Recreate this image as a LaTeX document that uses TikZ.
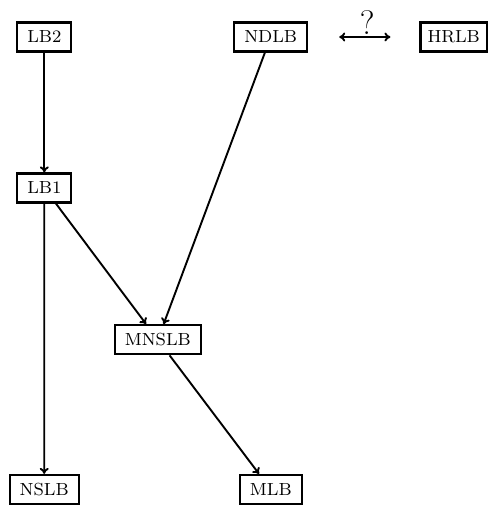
\documentclass[tikz,border=0pt]{standalone}
\usepackage{fontspec}
\newfontfamily\lmeight{lmroman8-regular.otf}
\usetikzlibrary{arrows.meta}
\begin{document}
\begin{tikzpicture}[x=1pt,y=-1pt,
  box/.style={draw, line width=2.2pt, minimum height=29pt, inner xsep=10pt, inner ysep=0pt,
    font=\lmeight\fontsize{17.5}{21}\selectfont},
  conn/.style={line width=1.9pt, -{To[length=6pt,width=9pt]}},
  bothconn/.style={line width=1.9pt, {To[length=6pt,width=9pt]}-{To[length=6pt,width=9pt]}}]
\useasboundingbox (0,0) rectangle (489,505);
\node[box] (LB2) at (44.3,37) {LB2};
\node[box] (NDLB) at (270.7,37) {NDLB};
\node[box, anchor=east, inner xsep=7pt] (HRLB) at (488,37) {HRLB};
\node[box] (LB1) at (44.3,188) {LB1};
\node[box] (MNSLB) at (157.8,339.7) {MNSLB};
\node[box] (NSLB) at (44.2,489.5) {NSLB};
\node[box] (MLB) at (270.8,489.5) {MLB};
\draw[bothconn, shorten <=31pt, shorten >=29pt] (NDLB.east) -- (HRLB.west)
  node[pos=0.5, above, inner sep=0pt, yshift=1.5pt, xshift=3.5pt, font=\fontsize{34}{38}\selectfont] (q) {?};
\draw[conn] (LB2) -- (LB1);
\draw[conn] (LB1) -- (NSLB);
\draw[conn] (LB1) -- (MNSLB);
\draw[conn] (NDLB) -- (MNSLB);
\draw[conn] (MNSLB) -- (MLB);
\end{tikzpicture}
\end{document}
